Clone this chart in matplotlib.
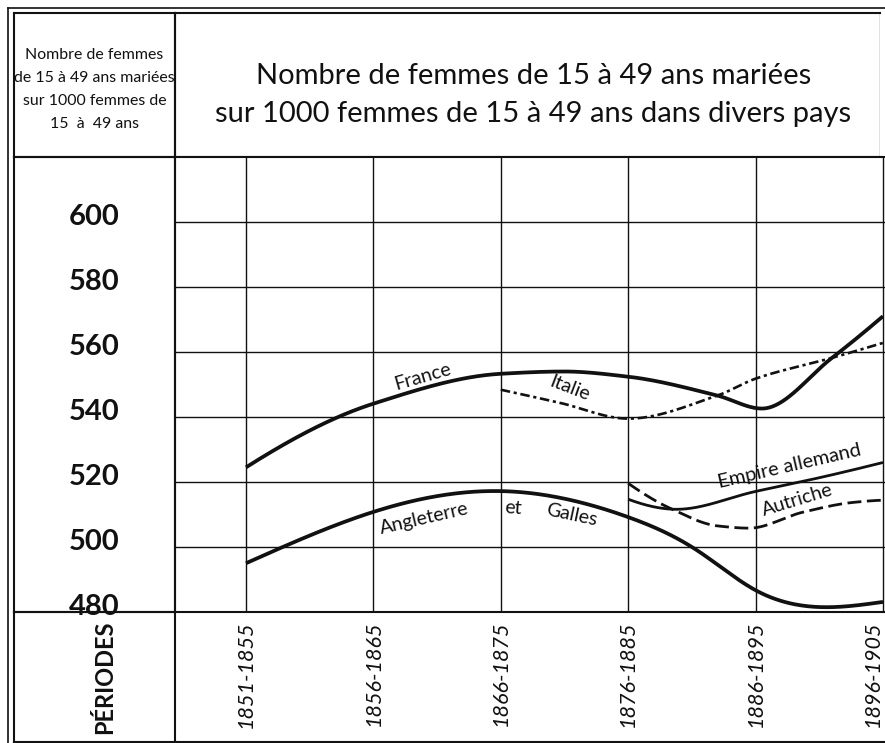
import numpy as np
import matplotlib
matplotlib.use("Agg")
import matplotlib.pyplot as plt
from matplotlib import transforms

# ---------------- data ----------------
periods = ["1851-1855", "1856-1865", "1866-1875", "1876-1885", "1886-1895", "1896-1905"]
y_ticks = [480, 500, 520, 540, 560, 580, 600]

# positions are in "period index" units (0 = 1851-1855 ... 5 = 1896-1905)
france_x = [0, 1, 2, 2.5, 3, 3.7, 4.05, 4.6, 5]
france_y = [524.5, 544.1, 553.3, 554.0, 552.4, 546.6, 542.6, 558.2, 571.0]

italie_x = [2, 2.46, 3, 3.7, 4, 4.6, 5]
italie_y = [548.4, 544.4, 539.5, 546.6, 551.8, 558.2, 562.8]

angl_x = [0, 1, 2, 3, 3.54, 4, 4.6, 5]
angl_y = [495.0, 510.8, 517.2, 509.2, 499.0, 486.7, 481.5, 483.1]

empire_x = [3, 3.38, 4, 4.51, 5]
empire_y = [514.7, 511.6, 517.1, 521.4, 526.0]

autriche_x = [3, 3.33, 3.7, 3.95, 4.37, 4.76, 5]
autriche_y = [519.6, 511.9, 506.5, 505.8, 510.7, 513.7, 514.4]

title_text = "Nombre de femmes de 15 à 49 ans mariées\nsur 1000 femmes de 15 à 49 ans dans divers pays"
head_text = "Nombre de femmes\nde 15 à 49 ans mariées\nsur 1000 femmes de\n15  à  49 ans"


def pchip(x, y, xs):
    x = np.asarray(x, float)
    y = np.asarray(y, float)
    h = np.diff(x)
    d = np.diff(y) / h
    n = len(x)
    m = np.zeros(n)
    for k in range(1, n - 1):
        if d[k - 1] * d[k] > 0:
            w1 = 2 * h[k] + h[k - 1]
            w2 = h[k] + 2 * h[k - 1]
            m[k] = (w1 + w2) / (w1 / d[k - 1] + w2 / d[k])

    def end(h0, h1, d0, d1):
        v = ((2 * h0 + h1) * d0 - h0 * d1) / (h0 + h1)
        if np.sign(v) != np.sign(d0):
            v = 0.0
        elif np.sign(d0) != np.sign(d1) and abs(v) > 3 * abs(d0):
            v = 3 * d0
        return v

    if n > 2:
        m[0] = end(h[0], h[1], d[0], d[1])
        m[-1] = end(h[-1], h[-2], d[-1], d[-2])
    else:
        m[0] = m[-1] = d[0]
    out = np.empty_like(xs)
    idx = np.clip(np.searchsorted(x, xs) - 1, 0, n - 2)
    for i, xv in enumerate(xs):
        k = idx[i]
        t = (xv - x[k]) / h[k]
        h00 = 2 * t**3 - 3 * t**2 + 1
        h10 = t**3 - 2 * t**2 + t
        h01 = -2 * t**3 + 3 * t**2
        h11 = t**3 - t**2
        out[i] = h00 * y[k] + h10 * h[k] * m[k] + h01 * y[k + 1] + h11 * h[k] * m[k + 1]
    return out


def natural(x, y, xs):
    x = np.asarray(x, float)
    y = np.asarray(y, float)
    n = len(x)
    h = np.diff(x)
    A = np.zeros((n, n))
    r = np.zeros(n)
    A[0, 0] = A[-1, -1] = 1.0
    for i in range(1, n - 1):
        A[i, i - 1] = h[i - 1]
        A[i, i] = 2 * (h[i - 1] + h[i])
        A[i, i + 1] = h[i]
        r[i] = 6 * ((y[i + 1] - y[i]) / h[i] - (y[i] - y[i - 1]) / h[i - 1])
    M = np.linalg.solve(A, r)
    idx = np.clip(np.searchsorted(x, xs) - 1, 0, n - 2)
    out = np.empty_like(xs)
    for j, xv in enumerate(xs):
        i = idx[j]
        a = x[i + 1] - xv
        b = xv - x[i]
        out[j] = (M[i] * a**3 + M[i + 1] * b**3) / (6 * h[i]) \
            + (y[i] / h[i] - M[i] * h[i] / 6) * a + (y[i + 1] / h[i] - M[i + 1] * h[i] / 6) * b
    return out


# ---------------- figure ----------------
W, H = 885, 743
fig = plt.figure(figsize=(W / 100, H / 100), dpi=100)
fig.patch.set_facecolor("white")
INK = "#111111"


def box(x0, y0, x1, y1, **kw):
    return fig.add_axes([x0 / W, 1 - y1 / H, (x1 - x0) / W, (y1 - y0) / H], **kw)


def clean(ax, lw=1.5, sides=("left", "right", "top", "bottom")):
    ax.set_xticks([])
    ax.set_yticks([])
    ax.patch.set_alpha(0)
    for s, sp in ax.spines.items():
        if s in sides:
            sp.set_linewidth(lw)
            sp.set_color(INK)
        else:
            sp.set_visible(False)


# outer double rule (left and top)
outer = box(8, 8, 885, 743)
clean(outer, lw=1.2, sides=("left", "top"))

# header cell
head = box(14, 13, 175, 157)
clean(head, lw=1.5)
head.text(0.5, 0.47, head_text, ha="center", va="center", multialignment="center",
          fontsize=11.4, family="Lato", linespacing=1.8, color=INK, transform=head.transAxes)

# title cell
tit = box(175, 13, 880, 157)
clean(tit, lw=1.5, sides=("top", "bottom", "left"))
tit.axvline(1, color=INK, lw=0.9)
tit.text(0.508, 0.43, title_text, ha="center", va="center", multialignment="center",
         fontsize=21, family="Lato", linespacing=1.55, color=INK, transform=tit.transAxes)

# main plot
ax = box(175, 157, 885, 612)
ax.set_xlim(-0.557, 5.016)
ax.set_ylim(480, 620)
for s in ("left", "top", "bottom"):
    ax.spines[s].set_linewidth(1.5)
    ax.spines[s].set_color(INK)
ax.spines["right"].set_visible(False)
ax.set_xticks(range(len(periods)))
ax.set_xticklabels(periods, rotation=90, fontsize=15.5, family="Lato", style="italic", color=INK)
ax.get_xticklabels()[-1].set_ha("right")
ax.tick_params(axis="x", length=0, pad=6)
ax.set_yticks(y_ticks[1:])
ax.set_yticklabels([])
ax.tick_params(axis="y", length=0)
ax.grid(True, color=INK, lw=1.0)
ax.set_axisbelow(True)

# y labels column
ycol = box(14, 157, 175, 612)
clean(ycol, lw=1.5)
ycol.set_ylim(ax.get_ylim())
up = transforms.offset_copy(ycol.transData, fig=fig, x=0, y=5, units="dots")
for v in y_ticks:
    ycol.text(0.5, v, str(v), transform=transforms.blended_transform_factory(ycol.transAxes, up),
              ha="center", va="center", fontsize=21, family="Lato", weight="bold", color=INK)

# periods label cell
pcell = box(14, 612, 175, 742)
clean(pcell, lw=1.5)
pcell.text(0.56, 0.5, "PÉRIODES", rotation=90, ha="center", va="center", fontsize=17,
           family="Lato", weight="bold", color=INK, transform=pcell.transAxes)

# bottom row frame under the x labels
xrow = box(175, 612, 885, 742)
clean(xrow, lw=1.5, sides=("bottom",))

# ---------------- curves ----------------
def draw(xp, yp, smooth=pchip, **kw):
    xs = np.linspace(xp[0], xp[-1], 400)
    ax.plot(xs, smooth(xp, yp, xs), color=INK, solid_capstyle="butt", dash_capstyle="butt", **kw)


draw(france_x, france_y, lw=2.7)
draw(angl_x, angl_y, smooth=natural, lw=2.7)
draw(empire_x, empire_y, lw=2.0)
draw(italie_x, italie_y, lw=1.9, linestyle=(0, (3.6, 1.4, 1.2, 1.4)))
draw(autriche_x, autriche_y, lw=2.0, linestyle=(0, (5.0, 2.0)))

lab = dict(ha="center", va="center", rotation_mode="anchor", family="Lato", color=INK)
ax.text(1.39, 552.3, "France", rotation=16, fontsize=14, **lab)
ax.text(2.54, 548.9, "Italie", rotation=-21, fontsize=14, **lab)
ax.text(4.27, 524.9, "Empire allemand", rotation=13, fontsize=14.5, **lab)
ax.text(4.33, 514.6, "Autriche", rotation=17, fontsize=14, **lab)
ax.text(1.40, 508.9, "Angleterre", rotation=13, fontsize=14, **lab)
ax.text(2.10, 512.0, "et", rotation=-4, fontsize=14, **lab)
ax.text(2.56, 509.8, "Galles", rotation=-12, fontsize=14, **lab)

fig.savefig("out.png", dpi=100, facecolor="white")
